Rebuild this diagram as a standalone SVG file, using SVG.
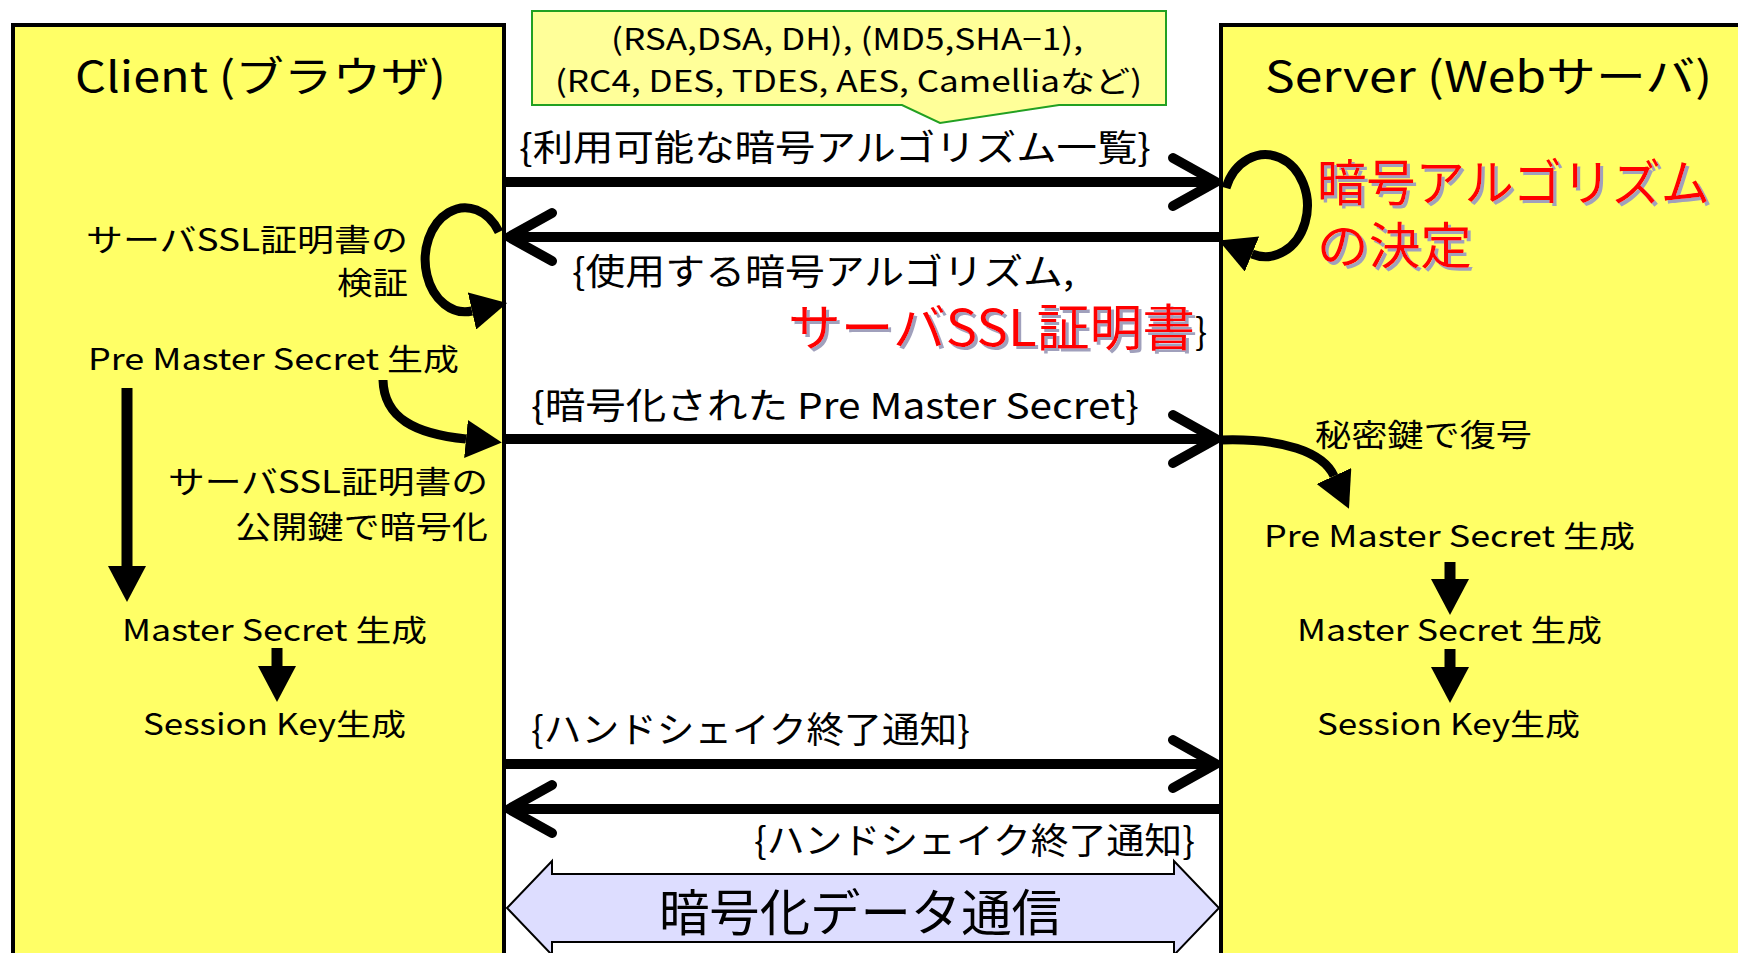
<svg xmlns="http://www.w3.org/2000/svg" width="1738" height="953" viewBox="0 0 1738 953">
<style>
  text { font-family: 'Noto Sans CJK JP', 'Liberation Sans', sans-serif; fill: #000; }
  .title { font-size: 42px; }
  .call { font-size: 30px; }
  .lbl { font-size: 36px; }
  .side { font-size: 31px; }
  .gen { font-size: 30px; }
  .red { font-size: 50px; fill: #FF0000; filter: url(#shadow); }
  .big { font-size: 50px; }
  .msg { fill: none; stroke: #000; stroke-width: 10; }
  .chev { fill: none; stroke: #000; stroke-width: 10; stroke-linecap: round; stroke-linejoin: round; }
  .curve { fill: none; stroke: #000; stroke-width: 9; }
  .down { fill: none; stroke: #000; stroke-width: 11; }
  .lane { fill: #FFFF66; stroke: #000; stroke-width: 4; }
</style>
<defs>
  <filter id="shadow" x="-5%" y="-20%" width="115%" height="150%">
    <feDropShadow dx="3" dy="3" stdDeviation="0.3" flood-color="#A0A0BC" flood-opacity="1"/>
  </filter>
  <marker id="tri" markerUnits="userSpaceOnUse" viewBox="0 0 36 38" markerWidth="36" markerHeight="38" refX="0" refY="19" orient="auto">
    <path d="M0,0 L36,19 L0,38 Z" fill="#000"/>
  </marker>
</defs>
<rect width="1738" height="953" fill="#FFFFFF"/>

<g id="client">
  <rect class="lane" x="13" y="25" width="491" height="1000"/>
  <text class="title" x="75" y="92" textLength="371" lengthAdjust="spacingAndGlyphs">Client (ブラウザ)</text>
  <text class="side" x="86" y="251" textLength="322" lengthAdjust="spacingAndGlyphs">サーバSSL証明書の</text>
  <text class="side" x="337" y="294" textLength="71" lengthAdjust="spacingAndGlyphs">検証</text>
  <text class="gen" x="88" y="370" textLength="371" lengthAdjust="spacingAndGlyphs">Pre Master Secret 生成</text>
  <text class="side" x="168" y="493" textLength="320" lengthAdjust="spacingAndGlyphs">サーバSSL証明書の</text>
  <text class="side" x="235" y="538" textLength="253" lengthAdjust="spacingAndGlyphs">公開鍵で暗号化</text>
  <text class="gen" x="122" y="641" textLength="305" lengthAdjust="spacingAndGlyphs">Master Secret 生成</text>
  <text class="gen" x="143" y="735" textLength="263" lengthAdjust="spacingAndGlyphs">Session Key生成</text>
</g>

<g id="server">
  <rect class="lane" x="1221" y="25" width="600" height="1000"/>
  <text class="title" x="1265" y="92" textLength="447" lengthAdjust="spacingAndGlyphs">Server (Webサーバ)</text>
  <text class="red" x="1317" y="201" textLength="393" lengthAdjust="spacingAndGlyphs">暗号アルゴリズム</text>
  <text class="red" x="1317" y="264" textLength="155" lengthAdjust="spacingAndGlyphs">の決定</text>
  <text class="side" x="1315" y="446" textLength="217" lengthAdjust="spacingAndGlyphs">秘密鍵で復号</text>
  <text class="gen" x="1264" y="547" textLength="371" lengthAdjust="spacingAndGlyphs">Pre Master Secret 生成</text>
  <text class="gen" x="1297" y="641" textLength="305" lengthAdjust="spacingAndGlyphs">Master Secret 生成</text>
  <text class="gen" x="1317" y="735" textLength="263" lengthAdjust="spacingAndGlyphs">Session Key生成</text>
</g>

<g id="callout">
  <path d="M532,11 H1166 V105 H1059 L940,123 L902,105 H532 Z" fill="#FFFF99" stroke="#22A022" stroke-width="2"/>
  <text class="call" x="611" y="50" textLength="472" lengthAdjust="spacingAndGlyphs">(RSA,DSA, DH), (MD5,SHA−1),</text>
  <text class="call" x="555" y="92" textLength="587" lengthAdjust="spacingAndGlyphs">(RC4, DES, TDES, AES, Camelliaなど)</text>
</g>

<g id="data-comm">
  <path d="M507,908 L552,861 V874 H1174 V861 L1219,908 L1174,955 V942 H552 V955 Z" fill="#DDDDFF" stroke="#000" stroke-width="2"/>
  <text class="big" x="659" y="931" textLength="403" lengthAdjust="spacingAndGlyphs">暗号化データ通信</text>
</g>

<g id="message-labels">
  <text class="lbl" x="519" y="161" textLength="632" lengthAdjust="spacingAndGlyphs">{利用可能な暗号アルゴリズム一覧}</text>
  <text class="lbl" x="572" y="285" textLength="502" lengthAdjust="spacingAndGlyphs">{使用する暗号アルゴリズム,</text>
  <text class="red" x="788" y="346" textLength="407" lengthAdjust="spacingAndGlyphs">サーバSSL証明書</text>
  <text class="lbl" x="1195" y="345">}</text>
  <text class="lbl" x="531" y="419" textLength="608" lengthAdjust="spacingAndGlyphs">{暗号化された Pre Master Secret}</text>
  <text class="lbl" x="531" y="743" textLength="439" lengthAdjust="spacingAndGlyphs">{ハンドシェイク終了通知}</text>
  <text class="lbl" x="754" y="854" textLength="441" lengthAdjust="spacingAndGlyphs">{ハンドシェイク終了通知}</text>
</g>

<g id="connectors">
  <path class="msg" d="M504,182 H1214"/>
  <path class="chev" d="M1173,158 L1216,182 L1173,206"/>
  <path class="msg" d="M1221,237 H511"/>
  <path class="chev" d="M552,213 L509,237 L552,261"/>
  <path class="msg" d="M504,439 H1214"/>
  <path class="chev" d="M1173,415 L1216,439 L1173,463"/>
  <path class="msg" d="M504,764 H1214"/>
  <path class="chev" d="M1173,740 L1216,764 L1173,788"/>
  <path class="msg" d="M1221,809 H511"/>
  <path class="chev" d="M552,785 L509,809 L552,833"/>
  <path class="curve" d="M499,232 A40 52 0 1 0 472,311" marker-end="url(#tri)"/>
  <path class="curve" d="M1226,188 A42 51 0 1 1 1252,254" marker-end="url(#tri)"/>
  <path class="curve" d="M383,380 C384,418 415,434 466,439" marker-end="url(#tri)"/>
  <path class="curve" d="M1221,440 C1283,438 1323,452 1334,476" marker-end="url(#tri)"/>
  <path class="down" d="M127,388 V566" marker-end="url(#tri)"/>
  <path class="down" d="M277,648 V666" marker-end="url(#tri)"/>
  <path class="down" d="M1450,562 V579" marker-end="url(#tri)"/>
  <path class="down" d="M1450,649 V667" marker-end="url(#tri)"/>
</g>
</svg>
